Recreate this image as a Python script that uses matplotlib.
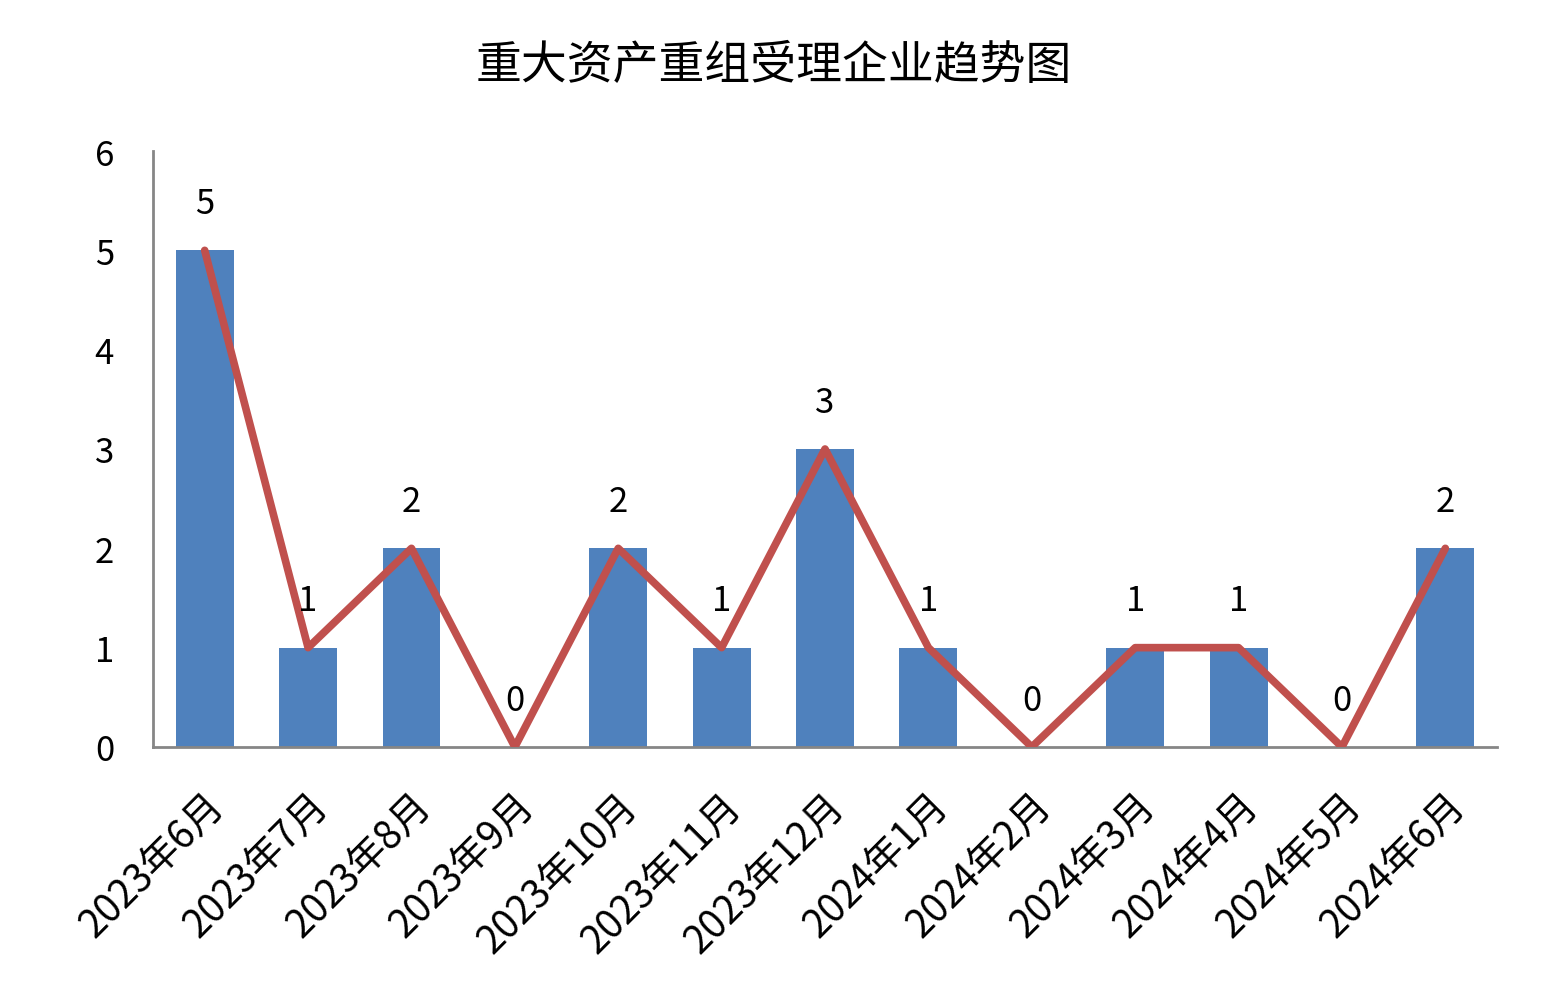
import matplotlib
matplotlib.use("Agg")
import matplotlib.pyplot as plt
import numpy as np

plt.rcParams['font.family'] = ['Noto Sans CJK SC', 'DejaVu Sans']

# data
months = ['2023年6月', '2023年7月', '2023年8月', '2023年9月', '2023年10月',
          '2023年11月', '2023年12月', '2024年1月', '2024年2月', '2024年3月',
          '2024年4月', '2024年5月', '2024年6月']
counts = [5, 1, 2, 0, 2, 1, 3, 1, 0, 1, 1, 0, 2]

fig = plt.figure(figsize=(15.47, 10.04), dpi=100)
ax = fig.add_axes([0.0989, 0.255, 0.8688, 0.5936])

x = np.arange(len(months))
ax.bar(x, counts, width=0.56, color='#4F81BD', zorder=2)
ax.plot(x, counts, color='#C0504D', linewidth=5.5, solid_capstyle='round',
        solid_joinstyle='round', zorder=3)

for xi, v in zip(x, counts):
    ax.text(xi, v + 0.47, str(v), ha='center', va='center', fontsize=25,
            color='black', zorder=4)

ax.set_xlim(-0.5, len(months) - 0.5)
ax.set_ylim(0, 6)
ax.set_yticks(range(0, 7))
ax.set_xticks(x)
ax.set_xticklabels(months, rotation=45, ha='right', rotation_mode='anchor',
                   fontsize=28)
ax.tick_params(axis='both', length=0)
ax.tick_params(axis='y', pad=28, labelsize=25)
ax.tick_params(axis='x', pad=28)

for s in ['top', 'right']:
    ax.spines[s].set_visible(False)
for s in ['left', 'bottom']:
    ax.spines[s].set_color('#868686')
    ax.spines[s].set_linewidth(2)

fig.text(0.5, 0.935, '重大资产重组受理企业趋势图', ha='center', va='center',
         fontsize=33)

fig.savefig('out.png', dpi=100, facecolor='white')
